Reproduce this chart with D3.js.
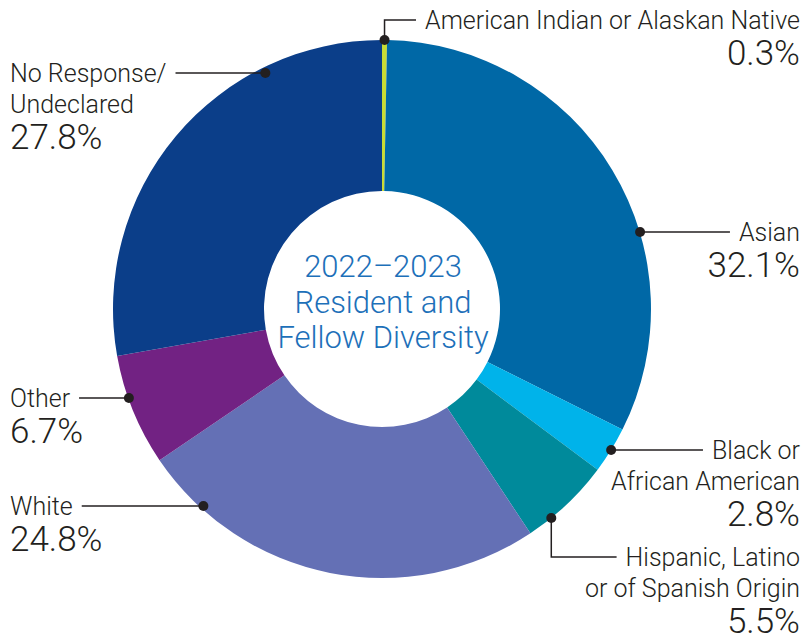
<!DOCTYPE html>
<html>
<head>
<meta charset="utf-8">
<script src="https://cdn.jsdelivr.net/npm/d3@7"></script>
<style>
  body { margin: 0; background: #fff; }
  text { font-family: Roboto, "Liberation Sans", sans-serif; font-weight: 300; fill: #231f20; }
</style>
</head>
<body>
<div id="chart"></div>
<script>
// dados
var categories = ["American Indian or Alaskan Native", "Asian", "Black or African American",
    "Hispanic, Latino or of Spanish Origin", "White", "Other", "No Response/ Undeclared"];
var values = [0.3, 32.1, 2.8, 5.5, 24.8, 6.7, 27.8];
var colors = ["#c9dc34", "#0068a6", "#00b3ea", "#008a9b", "#6470b5", "#722283", "#0b3e89"];
var labelLines = [
    ["American Indian or Alaskan Native"],
    ["Asian"],
    ["Black or", "African American"],
    ["Hispanic, Latino", "or of Spanish Origin"],
    ["White"],
    ["Other"],
    ["No Response/", "Undeclared"]
];
var titleLines = ["2022\u20132023", "Resident and", "Fellow Diversity"];

// posicao dos rotulos (angulo do ponto em graus, lado, y da primeira linha)
var dotAngle = [0.54, 73.6, 121.6, 141, 221.6, 250.2, 334.3];
var side = ["right", "right", "right", "right", "left", "left", "left"];
var labelY = [29, 241, 459, 566, 515, 407, 82];

var width = 807, height = 642;
var cx = 382, cy = 309;
var outerR = 269, innerR = 118;

var svg = d3.select("#chart")
    .append("svg")
    .attr("width", width)
    .attr("height", height);

var g = svg.append("g")
    .attr("transform", "translate(" + cx + "," + cy + ")");

var pie = d3.pie().sort(null).value(function(d) { return d; });
var arc = d3.arc().innerRadius(innerR).outerRadius(outerR);
var arcs = pie(values);

g.selectAll(".slice")
    .data(arcs)
    .enter()
    .append("path")
    .attr("class", "slice")
    .attr("d", arc)
    .attr("fill", function(d, i) { return colors[i]; });

// texto central
g.selectAll(".title")
    .data(titleLines)
    .enter()
    .append("text")
    .attr("class", "title")
    .attr("x", 1)
    .attr("y", function(d, i) { return -32 + i * 35.5; })
    .attr("text-anchor", "middle")
    .style("font-size", "31px")
    .style("fill", "#1d70b9")
    .text(function(d) { return d; });

// rotulos e linhas guia
var lineH = 31;
categories.forEach(function(c, i) {
    var a = dotAngle[i] * Math.PI / 180;
    var dx = cx + outerR * Math.sin(a);
    var dy = cy - outerR * Math.cos(a);
    var isRight = side[i] === "right";
    var tx = isRight ? 800 : 10;
    var anchor = isRight ? "end" : "start";
    var lines = labelLines[i];
    var y0 = labelY[i];
    var lineY = y0 - 9;

    // texto do rotulo
    var first;
    lines.forEach(function(t, j) {
        var el = svg.append("text")
            .attr("x", tx)
            .attr("y", y0 + j * lineH)
            .attr("text-anchor", anchor)
            .style("font-size", "25px")
            .text(t);
        if (j === 0) first = el;
    });
    svg.append("text")
        .attr("x", tx)
        .attr("y", y0 + (lines.length - 1) * lineH + 36)
        .attr("text-anchor", anchor)
        .style("font-size", "35px")
        .text(d3.format(".1f")(values[i]) + "%");

    // a linha termina perto do texto
    var firstW = first.node().getComputedTextLength();
    var endX = isRight ? tx - firstW - 9 : tx + firstW + 9;

    var pts;
    if (i === 0 || i === 3) {
        pts = [[dx, dy], [dx, lineY], [endX, lineY]];
    } else {
        pts = [[dx, lineY], [endX, lineY]];
        dy = lineY;
    }

    svg.append("path")
        .attr("d", d3.line()(pts))
        .attr("fill", "none")
        .attr("stroke", "#231f20")
        .attr("stroke-width", 1.5);

    svg.append("circle")
        .attr("cx", dx)
        .attr("cy", dy)
        .attr("r", 5)
        .attr("fill", "#231f20");
});
</script>
</body>
</html>
